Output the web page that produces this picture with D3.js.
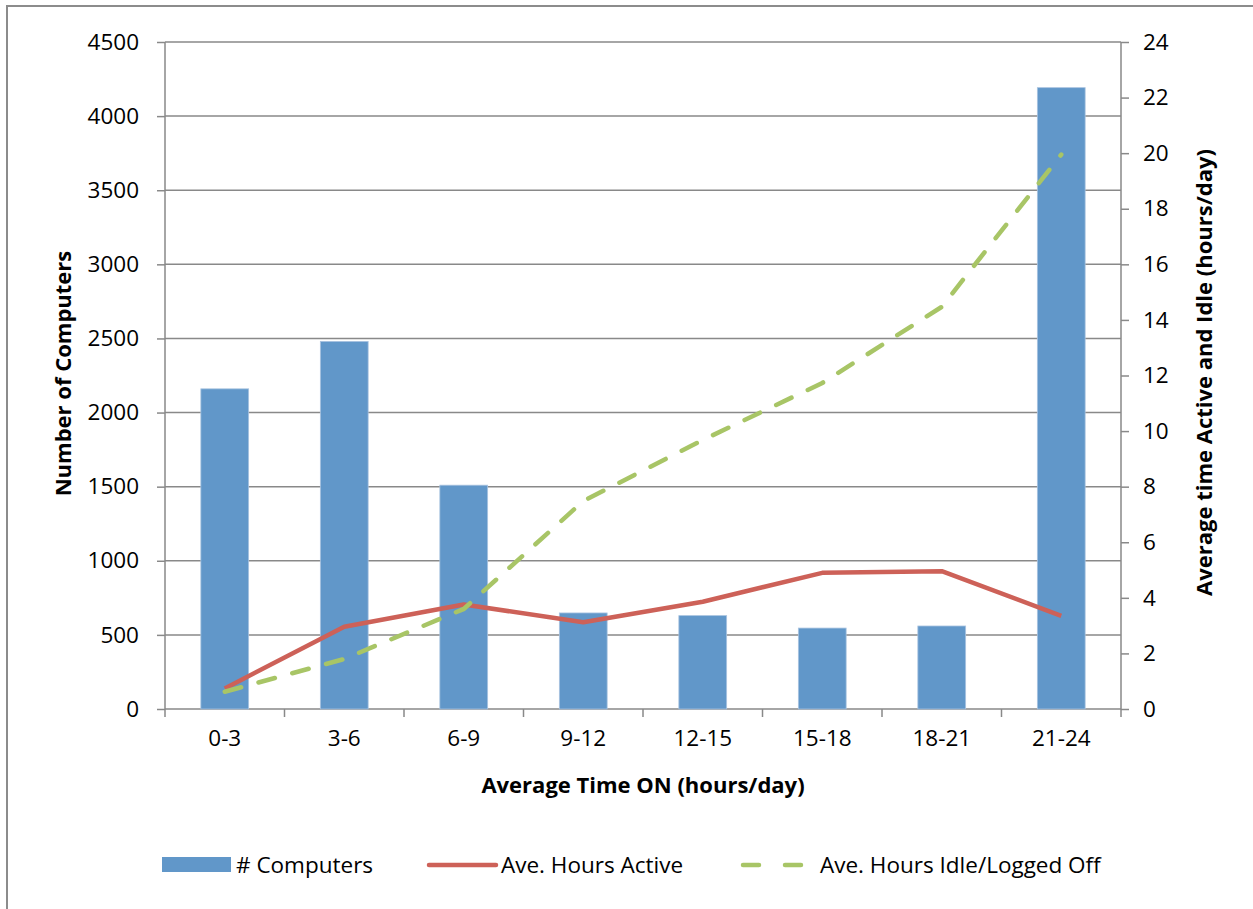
<!DOCTYPE html>
<html>
<head>
<meta charset="utf-8">
<script src="https://cdn.jsdelivr.net/npm/d3@7"></script>
<style>
  body { margin: 0; background: #fff; }
  svg { display: block; }
</style>
</head>
<body>
<div id="chart"></div>
<script>
// data
const categories = ["0-3", "3-6", "6-9", "9-12", "12-15", "15-18", "18-21", "21-24"];
const computers = [2160, 2480, 1510, 648, 630, 546, 560, 4192];
const hoursActive = [0.74, 2.96, 3.76, 3.12, 3.86, 4.9, 4.96, 3.35];
const hoursIdle = [0.62, 1.8, 3.6, 7.48, 9.68, 11.73, 14.47, 19.95];
const leftTicks = [0, 500, 1000, 1500, 2000, 2500, 3000, 3500, 4000, 4500];
const rightTicks = [0, 2, 4, 6, 8, 10, 12, 14, 16, 18, 20, 22, 24];

const width = 1253, height = 909;
const margin = { top: 42, right: 132, bottom: 200, left: 165 };
const plotW = width - margin.left - margin.right;
const plotH = height - margin.top - margin.bottom;

const font = "'Open Sans', sans-serif";
const labelSize = "22.5px";
const titleSize = "22px";
const gridColor = "#898989";
const barColor = "#6197c9";
const redColor = "#cd6158";
const greenColor = "#a8c566";

const svg = d3.select("#chart").append("svg")
    .attr("width", width)
    .attr("height", height)
    .style("font-family", font);

// outer chart border (cut off at right/bottom like the reference)
svg.append("rect")
    .attr("x", 7).attr("y", 6)
    .attr("width", 1260).attr("height", 930)
    .attr("fill", "none")
    .attr("stroke", "#8c8c8c")
    .attr("stroke-width", 2);

const g = svg.append("g").attr("transform", `translate(${margin.left},${margin.top})`);

const x = d3.scaleBand().domain(categories).range([0, plotW]);
const yL = d3.scaleLinear().domain([0, 4500]).range([plotH, 0]);
const yR = d3.scaleLinear().domain([0, 24]).range([plotH, 0]);

// gridlines
g.append("g")
    .selectAll("line")
    .data(leftTicks.filter(d => d > 0))
    .join("line")
    .attr("x1", 0).attr("x2", plotW)
    .attr("y1", d => yL(d)).attr("y2", d => yL(d))
    .attr("stroke", gridColor)
    .attr("stroke-width", 1.5);

// left axis
const leftAxis = g.append("g")
    .call(d3.axisLeft(yL).tickValues(leftTicks).tickFormat(d3.format("d")).tickSize(8).tickPadding(18));
leftAxis.selectAll("text").style("font-size", labelSize).attr("fill", "#000").style("font-family", font);

// right axis
const rightAxis = g.append("g")
    .attr("transform", `translate(${plotW},0)`)
    .call(d3.axisRight(yR).tickValues(rightTicks).tickSize(8).tickPadding(14));
rightAxis.selectAll("text").style("font-size", labelSize).attr("fill", "#000").style("font-family", font);

// bottom axis: ticks at category boundaries
const bottomAxis = g.append("g")
    .attr("transform", `translate(0,${plotH})`)
    .call(d3.axisBottom(x).tickSize(0).tickPadding(21));
bottomAxis.selectAll("text").style("font-size", labelSize).attr("fill", "#000").style("font-family", font);
bottomAxis.append("g")
    .selectAll("line")
    .data(d3.range(categories.length + 1))
    .join("line")
    .attr("x1", i => i * x.bandwidth()).attr("x2", i => i * x.bandwidth())
    .attr("y1", 0).attr("y2", 8)
    .attr("stroke", gridColor).attr("stroke-width", 1.5);

[leftAxis, rightAxis, bottomAxis].forEach(a => {
    a.selectAll(".domain").attr("stroke", gridColor).attr("stroke-width", 1.5);
    a.selectAll(".tick line").attr("stroke", gridColor).attr("stroke-width", 1.5);
});
leftAxis.select(".domain").attr("d", `M0,0V${plotH}`);
rightAxis.select(".domain").attr("d", `M0,0V${plotH}`);
bottomAxis.select(".domain").attr("d", `M0,0H${plotW}`);

// bars
const barW = x.bandwidth() * 0.4;
g.append("g")
    .selectAll("rect")
    .data(computers)
    .join("rect")
    .attr("x", (d, i) => x(categories[i]) + (x.bandwidth() - barW) / 2)
    .attr("y", d => yL(d))
    .attr("width", barW)
    .attr("height", d => plotH - yL(d))
    .attr("fill", barColor)
    .attr("stroke", "#a9c3e0")
    .attr("stroke-width", 0.8);

// lines on right axis
const cx = i => x(categories[i]) + x.bandwidth() / 2;
const lineR = d3.line().x((d, i) => cx(i)).y(d => yR(d));

g.append("path")
    .datum(hoursActive)
    .attr("d", lineR)
    .attr("fill", "none")
    .attr("stroke", redColor)
    .attr("stroke-width", 4.5)
    .attr("stroke-linejoin", "round");

g.append("path")
    .datum(hoursIdle)
    .attr("d", lineR)
    .attr("fill", "none")
    .attr("stroke", greenColor)
    .attr("stroke-width", 4.5)
    .attr("stroke-linecap", "round")
    .attr("stroke-dasharray", "17,18");

// axis titles
svg.append("text")
    .attr("transform", `translate(71,${margin.top + plotH / 2 - 2}) rotate(-90)`)
    .attr("text-anchor", "middle")
    .style("font-size", titleSize)
    .style("font-weight", "bold")
    .text("Number of Computers");

svg.append("text")
    .attr("transform", `translate(1212,${margin.top + plotH / 2 - 3}) rotate(-90)`)
    .attr("text-anchor", "middle")
    .style("font-size", titleSize)
    .style("font-weight", "bold")
    .text("Average time Active and Idle (hours/day)");

svg.append("text")
    .attr("x", margin.left + plotW / 2)
    .attr("y", 793)
    .attr("text-anchor", "middle")
    .style("font-size", titleSize)
    .style("font-weight", "bold")
    .text("Average Time ON (hours/day)");

// legend
const legendY = 865;
const legend = svg.append("g").style("font-size", labelSize);

legend.append("rect")
    .attr("x", 162).attr("y", legendY - 8)
    .attr("width", 69).attr("height", 15)
    .attr("fill", barColor);
legend.append("text").attr("x", 236).attr("y", legendY + 8).text("# Computers");

legend.append("line")
    .attr("x1", 429).attr("x2", 496)
    .attr("y1", legendY).attr("y2", legendY)
    .attr("stroke", redColor).attr("stroke-width", 4.5).attr("stroke-linecap", "round");
legend.append("text").attr("x", 501).attr("y", legendY + 8).text("Ave. Hours Active");

legend.append("line")
    .attr("x1", 743).attr("x2", 810)
    .attr("y1", legendY).attr("y2", legendY)
    .attr("stroke", greenColor).attr("stroke-width", 4.5).attr("stroke-linecap", "round")
    .attr("stroke-dasharray", "16,26");
legend.append("text").attr("x", 820).attr("y", legendY + 8).text("Ave. Hours Idle/Logged Off");
</script>
</body>
</html>
